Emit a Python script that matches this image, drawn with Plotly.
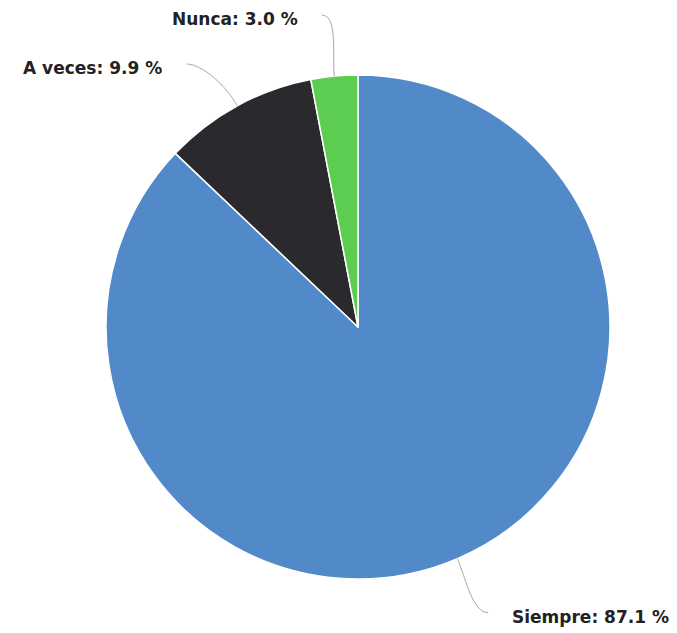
import math
import plotly.graph_objects as go

categories = ["Siempre", "A veces", "Nunca"]
values = [87.1, 9.9, 3.0]
colors = ["#5189c9", "#2a292e", "#5ccd50"]
label_texts = ["Siempre: 87.1 %", "A veces: 9.9 %", "Nunca: 3.0 %"]

# page body has an 8px default margin; compensate so the pie lands where the reference has it
OFF = 8
W, H = 677, 633
PW = PH = 504
ML = 106 - OFF
MT = 75 - OFF
MR = W - ML - PW
MB = H - MT - PH
R = PW / 2.0
CX = ML + PW / 2.0
CY = MT + PH / 2.0

def to_paper(px, py):
    return (px - ML) / PW, (H - MB - py) / PH

fig = go.Figure(go.Pie(
    labels=categories,
    values=values,
    sort=False,
    direction="clockwise",
    rotation=0,
    marker=dict(colors=colors, line=dict(color="#ffffff", width=1.5)),
    textinfo="none",
    hoverinfo="label+percent",
    showlegend=False,
))

total = sum(values)
nudges = [-1.3, -4.5, -1.2]
label_r = R + 62
shapes = []
annotations = []
cum = 0.0
for i, v in enumerate(values):
    mid = (cum + v / 2.0) / total * 360.0
    cum += v
    a = math.radians(mid)
    ex, ey = CX + R * math.sin(a), CY - R * math.cos(a)
    la = math.radians(mid + nudges[i])
    lx, ly = CX + label_r * math.sin(la), CY - label_r * math.cos(la)
    side = 1 if lx > CX else -1
    c1x, c1y = CX + (R + 22) * math.sin(a), CY - (R + 22) * math.cos(a)
    c2x, c2y = lx - side * 16, ly
    pts = [to_paper(*p) for p in [(ex, ey), (c1x, c1y), (c2x, c2y), (lx, ly)]]
    path = "M {0},{1} C {2},{3} {4},{5} {6},{7}".format(
        pts[0][0], pts[0][1], pts[1][0], pts[1][1],
        pts[2][0], pts[2][1], pts[3][0], pts[3][1])
    shapes.append(dict(type="path", xref="paper", yref="paper", path=path,
                       line=dict(color="#a8a8a8", width=1)))
    tx, ty = to_paper(lx + side * 22, ly + 4)
    annotations.append(dict(
        x=tx, y=ty, xref="paper", yref="paper", showarrow=False,
        text="<b>" + label_texts[i] + "</b>",
        xanchor="left" if side > 0 else "right",
        yanchor="middle",
        font=dict(family="DejaVu Sans, sans-serif", size=17, color="#222222"),
    ))

fig.update_layout(
    width=W, height=H,
    margin=dict(l=ML, r=MR, t=MT, b=MB),
    paper_bgcolor="#ffffff",
    plot_bgcolor="#ffffff",
    shapes=shapes,
    annotations=annotations,
)

fig.write_html("out.html")
